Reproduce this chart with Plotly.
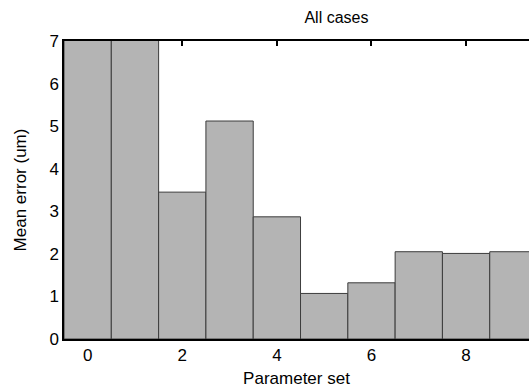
import plotly.graph_objects as go

parameter_set = [0, 1, 2, 3, 4, 5, 6, 7, 8, 9]
mean_error = [7.8, 7.6, 3.45, 5.12, 2.87, 1.07, 1.32, 2.05, 2.01, 2.05]
x_ticks = [0, 2, 4, 6, 8]
y_ticks = [0, 1, 2, 3, 4, 5, 6, 7]

font = "Liberation Sans, Arial, sans-serif"

fig = go.Figure(
    go.Bar(
        x=parameter_set,
        y=mean_error,
        width=1,
        marker=dict(color="#b4b4b4", line=dict(color="#3c3c3c", width=1)),
    )
)

fig.update_layout(
    width=529,
    height=392,
    margin=dict(l=64, r=0, t=41, b=53, autoexpand=False),
    paper_bgcolor="white",
    plot_bgcolor="white",
    showlegend=False,
    font=dict(family=font, size=17, color="black"),
    title=dict(text="All cases", x=0.636, xanchor="center", y=0.955, yanchor="middle",
               font=dict(size=16)),
)

fig.update_xaxes(
    range=[-0.5, 9.33],
    tickvals=x_ticks,
    ticks="inside",
    ticklen=5,
    tickcolor="black",
    tickwidth=1.5,
    showline=True,
    linecolor="black",
    linewidth=1.5,
    mirror="ticks",
    showgrid=False,
    zeroline=False,
    automargin=False,
    layer="below traces",
    title=dict(text="Parameter set", standoff=8, font=dict(size=17)),
    tickfont=dict(size=17),
)

fig.update_yaxes(
    range=[0, 7],
    tickvals=y_ticks,
    ticks="inside",
    ticklen=5,
    tickcolor="black",
    tickwidth=1.5,
    showline=True,
    linecolor="black",
    linewidth=1.5,
    showgrid=False,
    zeroline=False,
    automargin=False,
    layer="below traces",
    title=dict(text="Mean error (um)", standoff=18, font=dict(size=17)),
    tickfont=dict(size=17),
)

fig.write_html(
    "out.html",
    config={"displayModeBar": False},
    post_script="document.body.style.margin='0';document.body.style.overflow='hidden';",
)
